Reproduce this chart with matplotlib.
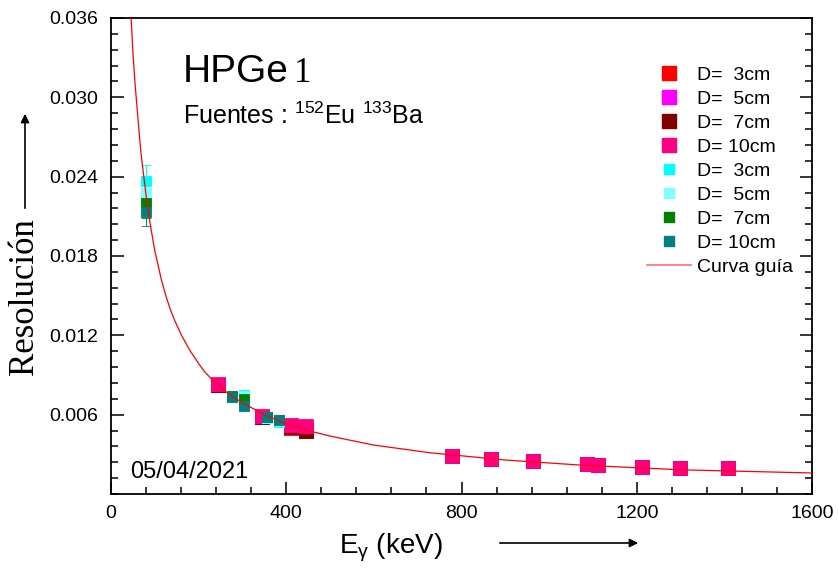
import numpy as np
import matplotlib
matplotlib.use('Agg')
import matplotlib.pyplot as plt
from matplotlib.lines import Line2D
from matplotlib.patches import FancyArrowPatch
from matplotlib.ticker import MultipleLocator, FixedLocator, FormatStrFormatter

plt.rcParams['font.family'] = ['Liberation Sans', 'DejaVu Sans']
plt.rcParams['mathtext.default'] = 'regular'

# 152Eu lines (big squares)
E_eu = [244, 344, 411, 444, 779, 867, 964, 1086, 1112, 1213, 1299, 1408]
R_eu3 = [0.00822, 0.00582, 0.00500, 0.00478, 0.00284, 0.00261, 0.00246, 0.00225, 0.00217, 0.00202, 0.00194, 0.00193]
R_eu5 = [0.00826, 0.00586, 0.00505, 0.00482, 0.00286, 0.00263, 0.00248, 0.00227, 0.00219, 0.00203, 0.00195, 0.00195]
R_eu7 = [0.00825, 0.00585, 0.00503, 0.00480, 0.00285, 0.00262, 0.00247, 0.00226, 0.00218, 0.00203, 0.00195, 0.00194]
R_eu10 = [0.00831, 0.00593, 0.00522, 0.00518, 0.00288, 0.00265, 0.00250, 0.00229, 0.00222, 0.00205, 0.00197, 0.00196]
err_eu = [0.00012, 0.00012, 0.00012, 0.00012, 0.0001, 0.0001, 0.0001, 0.0001, 0.0001, 0.0001, 0.0001, 0.0001]

# 133Ba lines (small squares)
E_ba = [81, 276, 303, 356, 384]
R_ba3 = [0.0237, 0.00735, 0.00748, 0.00572, 0.00545]
R_ba5 = [0.0228, 0.00730, 0.00740, 0.00576, 0.00550]
R_ba7 = [0.0220, 0.00742, 0.00722, 0.00585, 0.00560]
R_ba10 = [0.0213, 0.00733, 0.00665, 0.00582, 0.00557]
err_ba3 = [0.0012, 0.0002, 0.0002, 0.0002, 0.0002]
err_ba5 = [0.0009, 0.0002, 0.0002, 0.0002, 0.0002]
err_ba7 = [0.0011, 0.0003, 0.0003, 0.0003, 0.0003]
err_ba10 = [0.0010, 0.0003, 0.0003, 0.0003, 0.0003]

# guide curve
E_curve = [45, 50, 55, 60, 68, 80, 90, 100, 115, 127, 135, 145, 160, 180, 203, 215, 233, 270,
           300, 350, 400, 450, 500, 600, 728, 900, 1070, 1300, 1600]
R_curve = [0.0366, 0.0334, 0.0310, 0.0290, 0.0259, 0.0226, 0.0203, 0.0184, 0.0162, 0.0148,
           0.0140, 0.01315, 0.01206, 0.01086, 0.00972, 0.00920, 0.00858, 0.00752, 0.0069, 0.0060,
           0.0053, 0.0048, 0.00438, 0.0037, 0.00312, 0.00257, 0.00219, 0.00183, 0.00159]

labels = ['D=  3cm', 'D=  5cm', 'D=  7cm', 'D= 10cm']
eu_cols = ['#ff0000', '#ff00ff', '#800000', '#ff0080']
eu_ecols = ['#990000', '#990099', '#400000', '#660033']
ba_cols = ['#00ffff', '#80ffff', '#008000', '#008080']

fig = plt.figure(figsize=(8.38, 5.70), dpi=100)
ax = fig.add_axes([111/838, 76/570, 701/838, 476/570])

handles = []
for R, c, ec, lab in zip([R_eu3, R_eu5, R_eu7, R_eu10], eu_cols, eu_ecols, labels):
    ax.errorbar(E_eu, R, yerr=err_eu, fmt='s', ms=10, mfc=c, mec=c, mew=0.6,
                ecolor=ec, elinewidth=0.8, capsize=4.5, capthick=0.8, zorder=2)
    handles.append(Line2D([], [], ls='none', marker='s', ms=9.5, mfc=c, mec=c, label=lab))
for R, e, c, lab in zip([R_ba3, R_ba5, R_ba7, R_ba10], [err_ba3, err_ba5, err_ba7, err_ba10], ba_cols, labels):
    ax.errorbar(E_ba, R, yerr=e, fmt='s', ms=7.2, mfc=c, mec=c, mew=0.6,
                ecolor=c, elinewidth=0.8, capsize=3.3, capthick=0.8, zorder=3)
    handles.append(Line2D([], [], ls='none', marker='s', ms=7.2, mfc=c, mec=c, label=lab))
line, = ax.plot(E_curve, R_curve, color='red', lw=0.9, label='Curva guía', zorder=4)
handles.append(Line2D([], [], color='#ff7070', lw=1.2, label='Curva guía'))

ax.set_xlim(0, 1600)
ax.set_ylim(0, 0.036)
ax.xaxis.set_major_locator(MultipleLocator(400))
ax.xaxis.set_minor_locator(MultipleLocator(80))
ax.yaxis.set_major_locator(FixedLocator([0.006, 0.012, 0.018, 0.024, 0.030, 0.036]))
ax.yaxis.set_minor_locator(MultipleLocator(0.0012))
ax.yaxis.set_major_formatter(FormatStrFormatter('%.3f'))
ax.tick_params(which='both', direction='in', right=True, top=False, labelsize=14, width=1.1)
ax.tick_params(which='major', length=9)
ax.tick_params(which='minor', length=5)
ax.tick_params(axis='y', pad=9)
ax.tick_params(axis='x', pad=8)
for s in ax.spines.values():
    s.set_linewidth(1.3)

leg = ax.legend(handles=handles, loc='upper left', bbox_to_anchor=(0.7646, 0.899),
                frameon=False, fontsize=14, borderpad=0, borderaxespad=0,
                labelspacing=0.33, handlelength=2.26, handletextpad=0.3)

# text inside the axes
fig.text(183/838, 1-82/570, 'HPGe', fontsize=28, ha='left', va='baseline')
fig.text(294/838, 1-82/570, '1', fontsize=25, family='Liberation Serif', ha='left', va='baseline')
fig.text(183/838, 1-124/570, r'Fuentes : $^{152}$Eu $^{133}$Ba', fontsize=18, ha='left', va='baseline')
fig.text(130/838, 1-478/570, '05/04/2021', fontsize=17, ha='left', va='baseline')

# axis labels with arrows
fig.text(24/838, 1-297/570, 'Resolución', fontsize=25, family='Liberation Serif',
         rotation=90, ha='center', va='center')
fig.text(391/838, 1-548/570, r'E$_\gamma$ (keV)', fontsize=20, ha='center', va='center')
fig.add_artist(FancyArrowPatch((25/838, 1-211/570), (25/838, 1-111/570),
               transform=fig.transFigure, arrowstyle='-|>,head_length=5,head_width=2.5',
               color='black', lw=1.2))
fig.add_artist(FancyArrowPatch((497/838, 1-543/570), (641/838, 1-543/570),
               transform=fig.transFigure, arrowstyle='-|>,head_length=5,head_width=2.5',
               color='black', lw=1.2))

plt.savefig('out.png', dpi=100)
